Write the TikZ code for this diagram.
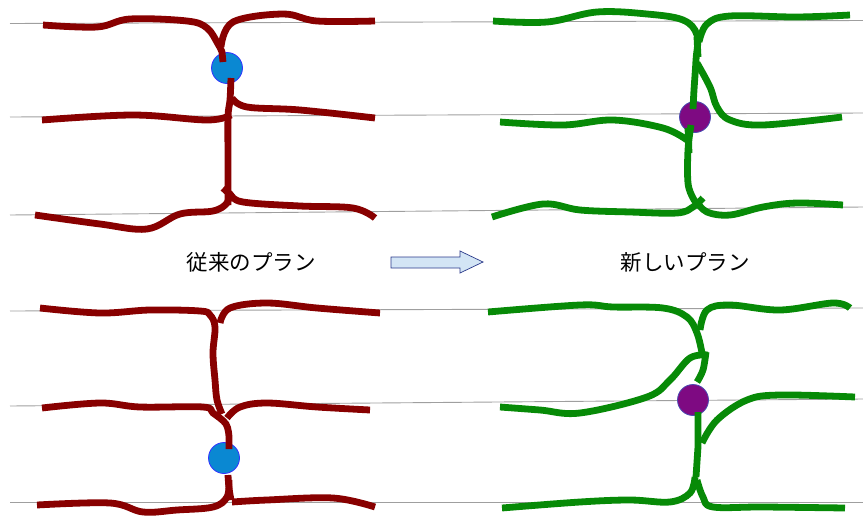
\documentclass[tikz,border=0pt]{standalone}
\usepackage{fontspec}
\newfontfamily\jp{Noto Sans CJK JP}
\definecolor{rootred}{HTML}{880000}
\definecolor{rootgreen}{HTML}{078A07}
\definecolor{dotblue}{HTML}{0A88D2}
\definecolor{dotpurple}{HTML}{7E0A82}
\definecolor{arrowfill}{HTML}{D3E5F5}
\definecolor{arrowedge}{HTML}{2A3A8A}
\tikzset{
  guide/.style={draw=gray!75, line width=0.9pt},
  redroot/.style={draw=rootred, line width=6.8pt, line cap=butt, line join=round},
  greenroot/.style={draw=rootgreen, line width=6.8pt, line cap=butt, line join=round},
  bluedot/.style={circle, fill=dotblue, draw=blue!80, line width=0.8pt, minimum size=31pt, inner sep=0pt},
  purpledot/.style={circle, fill=dotpurple, draw=gray!60!blue, line width=0.8pt, minimum size=31pt, inner sep=0pt},
  caption/.style={font=\jp\fontsize{21.5}{24}\selectfont, text=black},
  sm/.style={smooth, tension=0.6}
}
\begin{document}
\begin{tikzpicture}[x=1pt,y=-1pt]
\useasboundingbox (0,0) rectangle (863,517);
% guide lines
\draw[guide] (10,23.5) -- (863,20.5);
\draw[guide] (10,117) -- (863,113);
\draw[guide] (10,215) -- (863,207);
\draw[guide] (10,311) -- (863,308);
\draw[guide] (10,406) -- (863,399);
\draw[guide] (10,502) -- (863,502);

% ---------- top left (red) ----------
\node[bluedot] (b1) at (227,68) {};
\draw[redroot] plot[sm] coordinates {(43,25) (97,27) (130,19) (187,21) (207,28) (218,44) (222,52)} -- (223,62);
\draw[redroot] plot[sm] coordinates {(221,47) (233,22) (283,14) (317,21) (375,21)};
\draw[redroot] plot[sm] coordinates {(231,78) (230,100) (228,117) (228,160) (228,187) (228,205)};
\draw[redroot] plot[sm] coordinates {(232,98) (247,107) (300,110) (375,118)};
\draw[redroot] plot[sm] coordinates {(42,120) (133,115) (207,120) (231,115)};
\draw[redroot] plot[sm] coordinates {(35,215) (100,224) (147,229) (180,214) (213,211) (227,203) (229,192)};
\draw[redroot] plot[sm] coordinates {(223,188) (230,194) (243,202) (300,206) (353,208) (375,218)};

% ---------- top right (green) ----------
\node[purpledot] (p1) at (695,117) {};
\draw[greenroot] plot[sm] coordinates {(493,21) (547,22) (597,12) (647,14) (683,20) (697,35) (696,60) (694,90) (693,109)};
\draw[greenroot] plot[sm] coordinates {(699,42) (707,24) (730,16) (797,17) (850,15)};
\draw[greenroot] (697,37) -- (698,57);
\draw[greenroot] plot[sm] coordinates {(697,63) (710,87) (717,107) (730,120) (763,125) (842,117)};
\draw[greenroot] plot[sm] coordinates {(500,122) (563,125) (613,120) (663,128) (687,140)};
\draw[greenroot] (688,128) -- (689,153);
\draw[greenroot] plot[sm] coordinates {(691,125) (688,150) (688,183) (693,198) (697,203)};
\draw[greenroot] plot[sm] coordinates {(492,217) (543,204) (580,210) (630,212) (677,213) (693,207) (703,198)};
\draw[greenroot] plot[sm] coordinates {(696,201) (707,212) (730,215) (763,207) (797,203) (843,205)};

% ---------- bottom left (red) ----------
\node[bluedot] (b2) at (224,458) {};
\draw[redroot] plot[sm] coordinates {(40,308) (100,313) (150,310) (200,311) (210,315) (215,327) (213,353) (215,380) (217,400) (222,414)};
\draw[redroot] plot[sm] coordinates {(220,323) (230,308) (267,303) (317,308) (380,313)};
\draw[redroot] plot[sm] coordinates {(42,408) (100,403) (140,407) (203,407) (213,413) (226,424) (229,437)} -- (229,449);
\draw[redroot] plot[sm] coordinates {(227,418) (240,407) (267,403) (317,407) (370,410)};
\draw[redroot] plot[sm] coordinates {(228,475) (229,488) (231,500)};
\draw[redroot] plot[sm] coordinates {(37,505) (110,503) (143,512) (177,510) (213,507) (227,497) (229,480)};
\draw[redroot] plot[sm] coordinates {(232,502) (267,500) (333,498) (375,507)};

% ---------- bottom right (green) ----------
\node[purpledot] (p2) at (693,400) {};
\draw[greenroot] plot[sm] coordinates {(488,312) (580,305) (613,307) (663,308) (687,317) (697,333) (702,353)};
\draw[greenroot] plot[sm] coordinates {(700,330) (707,310) (730,305) (780,310) (833,303) (850,308)};
\draw[greenroot] plot[sm] coordinates {(706,352) (703,370) (697,382)};
\draw[greenroot] plot[sm] coordinates {(708,355) (690,358) (670,380) (647,397) (580,413) (540,410) (500,407)};
\draw[greenroot] (698,412) -- (698,447) -- (696,477);
\draw[greenroot] plot[sm] coordinates {(702,443) (717,420) (747,400) (780,395) (855,397)};
\draw[greenroot] plot[sm] coordinates {(502,508) (580,502) (630,500) (670,502) (690,493) (695,477)};
\draw[greenroot] plot[sm] coordinates {(697,480) (703,497) (713,507) (763,507) (845,508)};

% ---------- captions and arrow ----------
\node[caption] (old) at (251,262) {従来のプラン};
\node[caption] (new) at (685,262) {新しいプラン};
\draw[fill=arrowfill, draw=arrowedge, line width=0.7pt]
  (391,257) -- (460,257) -- (460,251) -- (483,262) -- (460,273) -- (460,268) -- (391,268) -- cycle;
\end{tikzpicture}
\end{document}
